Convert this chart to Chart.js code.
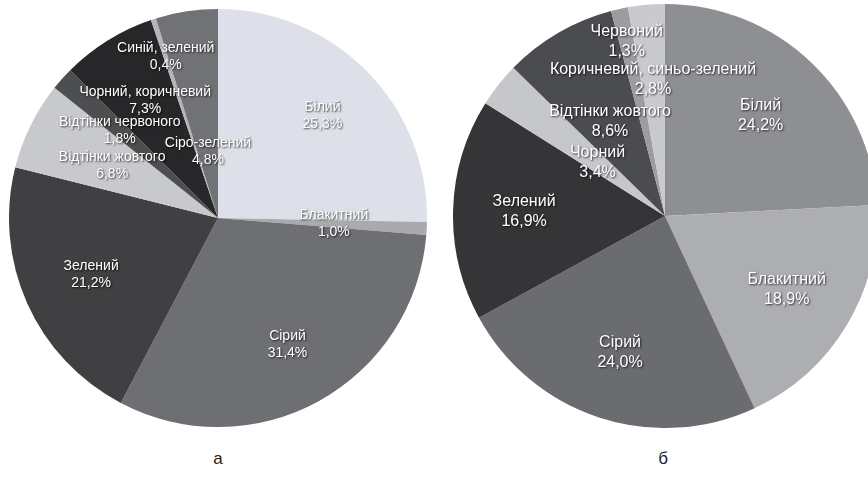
<!DOCTYPE html>
<html>
<head>
<meta charset="utf-8">
<script src="https://cdn.jsdelivr.net/npm/chart.js@4.4.0/dist/chart.umd.min.js"></script>
<style>
  html, body { margin: 0; padding: 0; background: #fff; }
  body { width: 868px; height: 481px; position: relative; overflow: hidden; font-family: "Liberation Sans", Arial, sans-serif; }
  .box { position: absolute; }
  #boxA { left: 9px; top: 9px; width: 418px; height: 418px; }
  #boxB { left: 453px; top: 4px; width: 424px; height: 424px; }
  .cap { position: absolute; top: 449px; font-size: 17px; color: #222; width: 40px; text-align: center; }
</style>
</head>
<body>
<div class="box" id="boxA"><canvas id="chartA"></canvas></div>
<div class="box" id="boxB"><canvas id="chartB"></canvas></div>
<div class="cap" style="left:198px">а</div>
<div class="cap" style="left:643px">б</div>
<script>
// а
var labelsA = ["Білий", "Блакитний", "Сірий", "Зелений", "Відтінки жовтого", "Відтінки червоного", "Чорний, коричневий", "Синій, зелений", "Сіро-зелений"];
var valuesA = [25.3, 1.0, 31.4, 21.2, 6.8, 1.8, 7.3, 0.4, 4.8];
var colorsA = ['#dde0e8', '#a9aaad', '#6e6f73', '#404042', '#c8c9cc', '#4d4e50', '#27272a', '#b5b6b9', '#717275'];
// how far from the centre each label sits (fraction of radius)
var labelRadA = [0.70, 0.555, 0.69, 0.665, 0.565, 0.63, 0.66, 0.81, 0.32];

// б
var labelsB = ["Білий", "Блакитний", "Сірий", "Зелений", "Чорний", "Відтінки жовтого", "Червоний", "Коричневий, синьо-зелений"];
var valuesB = [24.2, 18.9, 24.0, 16.9, 3.4, 8.6, 1.3, 2.8];
var colorsB = ['#8e8f93', '#adaeb1', '#6b6c70', '#353537', '#c6c7ca', '#4b4c4f', '#9c9da0', '#c9cacd'];
var labelRadB = [0.655, 0.67, 0.68, 0.665, 0.405, 0.515, 0.84, 0.645];

function pct(v) {
  return v.toFixed(1).replace('.', ',') + '%';
}

const sliceLabels = {
  id: 'sliceLabels',
  afterDatasetsDraw(chart, args, opts) {
    var ctx = chart.ctx;
    var meta = chart.getDatasetMeta(0);
    var vals = chart.data.datasets[0].data;
    ctx.save();
    ctx.font = opts.size + 'px "Liberation Sans", Arial, sans-serif';
    ctx.textAlign = 'center';
    ctx.textBaseline = 'middle';
    ctx.fillStyle = '#fff';
    ctx.shadowColor = 'rgba(0,0,0,0.75)';
    ctx.shadowBlur = 2;
    ctx.shadowOffsetX = 1;
    ctx.shadowOffsetY = 1;
    meta.data.forEach(function (arc, i) {
      var mid = (arc.startAngle + arc.endAngle) / 2;
      var r = arc.outerRadius * opts.rad[i];
      var x = arc.x + Math.cos(mid) * r;
      var y = arc.y + Math.sin(mid) * r;
      ctx.fillText(chart.data.labels[i], x, y - opts.lh / 2);
      ctx.fillText(pct(vals[i]), x, y + opts.lh / 2);
    });
    ctx.restore();
  }
};

function makePie(el, labels, values, colors, rad, size, lh) {
  return new Chart(document.getElementById(el), {
    type: 'pie',
    data: {
      labels: labels,
      datasets: [{
        data: values,
        backgroundColor: colors,
        borderWidth: 0
      }]
    },
    options: {
      responsive: true,
      maintainAspectRatio: false,
      animation: false,
      layout: { padding: 0 },
      plugins: {
        legend: { display: false },
        tooltip: { enabled: false },
        sliceLabels: { rad: rad, size: size, lh: lh }
      }
    },
    plugins: [sliceLabels]
  });
}

makePie('chartA', labelsA, valuesA, colorsA, labelRadA, 14, 17);
makePie('chartB', labelsB, valuesB, colorsB, labelRadB, 16, 20);
</script>
</body>
</html>
